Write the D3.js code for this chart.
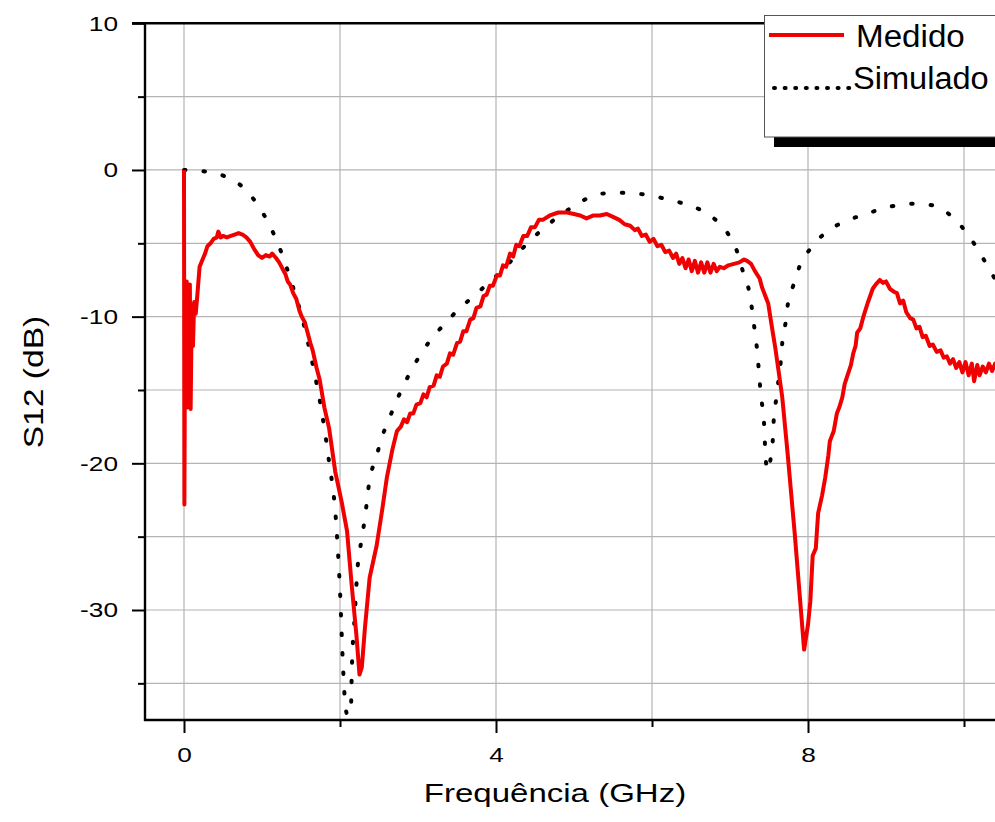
<!DOCTYPE html>
<html>
<head>
<meta charset="utf-8">
<script src="https://cdn.jsdelivr.net/npm/d3@7"></script>
<style>
  html, body { margin: 0; padding: 0; background: #fff; overflow: hidden; }
  svg { display: block; }
  text { font-family: "Liberation Sans", Arial, sans-serif; fill: #000; }
</style>
</head>
<body>
<div id="chart"></div>
<script>
// ---------- DATA ----------
const seriesNames = ["Medido", "Simulado"];

const medidoF = [0, 0.005, 0.015, 0.025, 0.035, 0.045, 0.055, 0.065, 0.075, 0.085, 0.1, 0.115, 0.13, 0.15, 0.17,
  0.2, 0.23, 0.27, 0.3, 0.34, 0.38, 0.42, 0.44, 0.47, 0.5, 0.55, 0.6, 0.65, 0.7, 0.75, 0.8, 0.85, 0.9, 0.95, 1.0,
  1.05, 1.1, 1.13, 1.18, 1.22, 1.27, 1.3, 1.33, 1.36, 1.4, 1.44, 1.48, 1.51, 1.55, 1.58, 1.62, 1.65, 1.7, 1.74, 1.8,
  1.86, 1.94, 2.02, 2.09, 2.15, 2.21, 2.25, 2.28, 2.32, 2.38, 2.47, 2.54, 2.6, 2.67, 2.73, 2.78, 2.82, 2.86, 2.9,
  2.94, 2.98, 3.03, 3.07, 3.11, 3.15, 3.2, 3.24, 3.28, 3.32, 3.37, 3.41, 3.45, 3.5, 3.54, 3.58, 3.62, 3.67, 3.71,
  3.75, 3.8, 3.84, 3.88, 3.92, 3.96, 4.01, 4.05, 4.09, 4.13, 4.18, 4.22, 4.26, 4.3, 4.35, 4.4, 4.45, 4.5, 4.55, 4.6,
  4.69, 4.8, 4.91, 5.0, 5.08, 5.16, 5.25, 5.33, 5.42, 5.5, 5.58, 5.65, 5.72, 5.78, 5.82, 5.87, 5.92, 5.97, 6.02,
  6.07, 6.12, 6.17, 6.22, 6.27, 6.31, 6.35, 6.39, 6.43, 6.47, 6.51, 6.55, 6.59, 6.63, 6.67, 6.71, 6.75, 6.79, 6.83,
  6.87, 6.92, 6.98, 7.05, 7.12, 7.18, 7.22, 7.27, 7.32, 7.38, 7.41, 7.49, 7.54, 7.58, 7.62, 7.67, 7.74, 7.83, 7.9,
  7.95, 8.0, 8.03, 8.06, 8.1, 8.13, 8.18, 8.22, 8.26, 8.28, 8.33, 8.37, 8.4, 8.44, 8.47, 8.5, 8.55, 8.58, 8.61,
  8.63, 8.67, 8.71, 8.77, 8.83, 8.87, 8.92, 8.96, 9.0, 9.05, 9.1, 9.14, 9.18, 9.22, 9.26, 9.31, 9.35, 9.39, 9.43,
  9.47, 9.51, 9.56, 9.6, 9.65, 9.7, 9.74, 9.78, 9.82, 9.86, 9.9, 9.94, 9.98, 10.02, 10.06, 10.1, 10.13, 10.17, 10.2,
  10.24, 10.28, 10.32, 10.36, 10.4, 10.45, 10.5];

const medidoDb = [0, -22.8, -8.0, -15.5, -7.6, -16.2, -8.2, -14.5, -7.8, -16.3, -9.2, -12.0, -9.0, -9.8, -8.6,
  -6.6, -6.2, -5.7, -5.2, -5.0, -4.7, -4.6, -4.2, -4.6, -4.5, -4.6, -4.5, -4.4, -4.3, -4.4, -4.6, -4.9, -5.4, -5.8, -6.0,
  -5.8, -5.9, -5.7, -6.0, -6.3, -6.8, -7.1, -7.6, -7.8, -8.4, -8.8, -9.6, -10.0, -10.4, -11.0, -11.8, -12.3, -13.5, -14.3, -16.2,
  -17.6, -20.6, -22.6, -24.6, -28.3, -31.7, -34.4, -33.9, -31.2, -27.8, -25.6, -23.2, -21.0, -19.1, -17.8, -17.5, -17.0, -17.2, -16.6,
  -16.6, -16.0, -15.9, -15.3, -15.5, -14.8, -14.7, -14.0, -14.1, -13.4, -13.2, -12.5, -12.6, -11.8, -11.7, -11.0, -11.0, -10.2, -10.1,
  -9.4, -9.3, -8.6, -8.5, -7.9, -7.9, -7.2, -7.2, -6.5, -6.6, -5.7, -5.9, -5.1, -5.2, -4.5, -4.5, -3.9, -3.9, -3.4, -3.4,
  -3.1, -2.9, -2.9, -3.0, -3.1, -3.3, -3.1, -3.1, -3.0, -3.2, -3.4, -3.7, -3.8, -4.1, -4.0, -4.5, -4.4, -4.9, -4.7,
  -5.2, -5.1, -5.6, -5.5, -6.0, -5.7, -6.4, -6.0, -6.7, -6.1, -6.9, -6.2, -7.0, -6.3, -7.0, -6.3, -7.0, -6.4, -6.9,
  -6.6, -6.7, -6.5, -6.4, -6.3, -6.1, -6.2, -6.4, -6.9, -7.4, -8.0, -9.1, -10.8, -12.1, -13.6, -15.5, -19.4, -24.8, -29.4,
  -32.7, -31.0, -29.4, -26.3, -25.8, -23.4, -22.2, -21.0, -19.5, -18.5, -17.8, -16.6, -16.2, -15.5, -14.6, -14.1, -13.3, -12.5, -12.0,
  -11.1, -10.8, -10.0, -9.0, -8.1, -7.8, -7.5, -7.7, -7.6, -8.1, -8.3, -8.4, -9.1, -8.9, -9.7, -10.1, -10.2, -10.8, -10.7,
  -11.4, -11.3, -12.0, -11.9, -12.4, -12.3, -12.8, -12.7, -13.2, -12.9, -13.5, -13.1, -13.8, -13.1, -14.0, -13.2, -14.4, -13.3, -14.0,
  -13.4, -13.8, -13.2, -13.7, -13.2, -13.5, -13.3];

const simuladoF = [0, 0.27, 0.51, 0.76, 0.96, 1.1, 1.21, 1.38, 1.53, 1.64, 1.74, 1.85, 1.96, 2.0, 2.04, 2.07, 2.1,
  2.14, 2.15, 2.19, 2.22, 2.28, 2.32, 2.38, 2.46, 2.52, 2.62, 2.72, 3.03, 3.41, 3.8, 4.05, 4.44, 4.82, 5.08, 5.27,
  5.53, 5.78, 6.03, 6.27, 6.53, 6.77, 6.98, 7.1, 7.17, 7.25, 7.29, 7.32, 7.35, 7.37, 7.39, 7.42, 7.44, 7.45, 7.47,
  7.49, 7.52, 7.55, 7.56, 7.59, 7.62, 7.65, 7.67, 7.71, 7.74, 7.81, 7.89, 8.04, 8.27, 8.53, 8.77, 9.05, 9.35, 9.59,
  9.85, 10.05, 10.22, 10.36, 10.5];

const simuladoDb = [0, -0.1, -0.4, -1.2, -2.5, -3.8, -5.1, -7.7, -10.4, -13.0, -15.7, -19.5, -24.8, -28.7, -34.0, -36.6, -37.2,
  -36.8, -34.4, -30.3, -27.5, -25.1, -23.7, -21.1, -19.7, -18.5, -17.1, -15.8, -12.6, -10.1, -8.2, -7.0, -4.8, -3.1, -2.2, -1.7,
  -1.55, -1.6, -1.8, -2.1, -2.5, -3.2, -4.4, -5.7, -7.0, -8.4, -9.8, -11.1, -12.4, -13.7, -15.0, -16.4, -17.6, -18.9, -20.3,
  -20.5, -19.7, -18.3, -17.1, -15.7, -14.4, -13.1, -11.8, -10.5, -9.2, -7.9, -6.6, -5.3, -4.1, -3.4, -2.95, -2.5, -2.3, -2.4,
  -3.2, -4.4, -5.8, -7.1, -8.3];

const xMajorTicks = [0, 4, 8];
const xMinorTicks = [2, 6, 10];
const xGrid = [0, 2, 4, 6, 8, 10];
const yMajorTicks = [10, 0, -10, -20, -30];
const yMinorTicks = [5, -5, -15, -25, -35];
const yGrid = [5, 0, -5, -10, -15, -20, -25, -30, -35];

const xTitle = "Frequência (GHz)";
const yTitle = "S12 (dB)";

// ---------- LAYOUT ----------
const W = 995, H = 822;
const mLeft = 145, mTop = 23.3, mBottom = 720, mRight = 1042;

const x = d3.scaleLinear().domain([-0.5, 11]).range([mLeft, mRight]);
const y = d3.scaleLinear().domain([-37.5, 10]).range([mBottom, mTop]);

const svg = d3.select("#chart").append("svg")
  .attr("width", W).attr("height", H);

// widen glyphs horizontally (reference text is drawn wider than Arial)
function stretch(sel, k) {
  sel.each(function () {
    const L = this.getComputedTextLength();
    this.setAttribute("textLength", (L * k).toFixed(1));
    this.setAttribute("lengthAdjust", "spacingAndGlyphs");
  });
}

svg.append("defs").append("clipPath").attr("id", "plotclip")
  .append("rect").attr("x", mLeft).attr("y", mTop).attr("width", mRight - mLeft).attr("height", mBottom - mTop);

// grid
const grid = svg.append("g").attr("stroke", "#b4b4b4").attr("stroke-width", 1.2);
grid.selectAll("line.vx").data(xGrid).join("line").attr("class", "vx")
  .attr("x1", d => x(d)).attr("x2", d => x(d)).attr("y1", mTop).attr("y2", mBottom);
grid.selectAll("line.hy").data(yGrid).join("line").attr("class", "hy")
  .attr("y1", d => y(d)).attr("y2", d => y(d)).attr("x1", mLeft).attr("x2", mRight);

// lines
const medido = medidoF.map((f, i) => [f, medidoDb[i]]);
const simulado = simuladoF.map((f, i) => [f, simuladoDb[i]]);

const plot = svg.append("g").attr("clip-path", "url(#plotclip)");
plot.append("path").datum(simulado)
  .attr("d", d3.line().x(d => x(d[0])).y(d => y(d[1])).curve(d3.curveMonotoneX))
  .attr("fill", "none").attr("stroke", "#000").attr("stroke-width", 4)
  .attr("stroke-linecap", "round").attr("stroke-dasharray", "1.5,18");
plot.append("path").datum(medido)
  .attr("d", d3.line().x(d => x(d[0])).y(d => y(d[1])))
  .attr("fill", "none").attr("stroke", "#f00000").attr("stroke-width", 4)
  .attr("stroke-linejoin", "round");

// axes
const fmt = d => String(d);
const yAxisMajor = d3.axisLeft(y).tickValues(yMajorTicks).tickSize(13).tickPadding(14).tickFormat(fmt);
const yAxisMinor = d3.axisLeft(y).tickValues(yMinorTicks).tickSize(7).tickFormat("");
const xAxisMajor = d3.axisBottom(x).tickValues(xMajorTicks).tickSize(13).tickPadding(14).tickFormat(fmt);
const xAxisMinor = d3.axisBottom(x).tickValues(xMinorTicks).tickSize(7).tickFormat("");

function styleAxis(g) {
  g.select(".domain").remove();
  g.selectAll(".tick line").attr("stroke", "#000").attr("stroke-width", 2);
  g.selectAll(".tick text").attr("font-size", 21).attr("font-family", "'Liberation Sans', Arial, sans-serif").attr("fill", "#000");
}
const gy = svg.append("g").attr("transform", `translate(${mLeft},0)`).call(yAxisMajor).call(styleAxis);
svg.append("g").attr("transform", `translate(${mLeft},0)`).call(yAxisMinor).call(styleAxis);
const gx = svg.append("g").attr("transform", `translate(0,${mBottom})`).call(xAxisMajor).call(styleAxis);
svg.append("g").attr("transform", `translate(0,${mBottom})`).call(xAxisMinor).call(styleAxis);
stretch(gy.selectAll(".tick text"), 1.25);
stretch(gx.selectAll(".tick text"), 1.25);

// frame lines
svg.append("line").attr("x1", mLeft).attr("x2", mLeft).attr("y1", mTop - 1).attr("y2", mBottom + 1)
  .attr("stroke", "#000").attr("stroke-width", 2.4);
svg.append("line").attr("x1", mLeft - 1).attr("x2", mRight).attr("y1", mBottom).attr("y2", mBottom)
  .attr("stroke", "#000").attr("stroke-width", 2.4);
svg.append("line").attr("x1", mLeft - 13).attr("x2", mRight).attr("y1", mTop).attr("y2", mTop)
  .attr("stroke", "#000").attr("stroke-width", 2.4);

// titles
const xt = svg.append("text").attr("x", 555).attr("y", 802).attr("text-anchor", "middle")
  .attr("font-size", 26).text(xTitle);
stretch(xt, 1.27);
const yt = svg.append("text").attr("transform", "translate(43,382) rotate(-90)").attr("text-anchor", "middle")
  .attr("font-size", 28).text(yTitle);
stretch(yt, 1.2);

// legend
const lg = svg.append("g");
lg.append("rect").attr("x", 774).attr("y", 26).attr("width", 300).attr("height", 121).attr("fill", "#000");
lg.append("rect").attr("x", 764.5).attr("y", 15.5).attr("width", 300).attr("height", 121.5)
  .attr("fill", "#fff").attr("stroke", "#555").attr("stroke-width", 1);
lg.append("line").attr("x1", 769).attr("x2", 844).attr("y1", 35).attr("y2", 35)
  .attr("stroke", "#f00000").attr("stroke-width", 4);
lg.append("line").attr("x1", 774).attr("x2", 850).attr("y1", 88).attr("y2", 88)
  .attr("stroke", "#000").attr("stroke-width", 4).attr("stroke-linecap", "round").attr("stroke-dasharray", "1,9.6");
const t1 = lg.append("text").attr("x", 856).attr("y", 47).attr("font-size", 31).text(seriesNames[0]);
const t2 = lg.append("text").attr("x", 853).attr("y", 89).attr("font-size", 31).text(seriesNames[1]);
stretch(t1, 1.07);
stretch(t2, 1.05);
</script>
</body>
</html>
